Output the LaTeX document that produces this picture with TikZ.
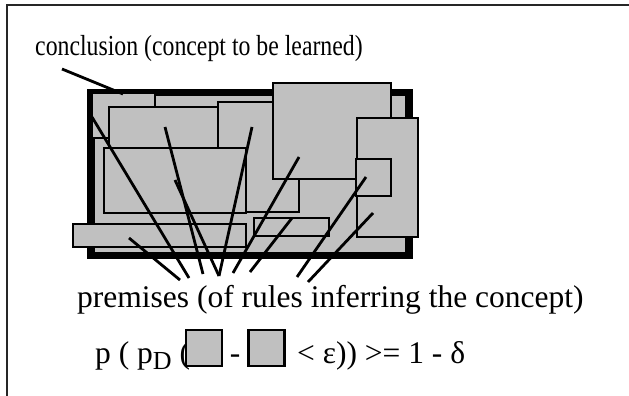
\documentclass[tikz,border=0pt]{standalone}
\usepackage{fontspec}
\setmainfont{Liberation Serif}
\definecolor{boxgray}{RGB}{192,192,192}
\begin{document}
\begin{tikzpicture}[x=1pt,y=-1pt,
  box/.style={fill=boxgray,draw=black,line width=2.8pt},
  fan/.style={draw=black,line width=2.8pt},
  lbl/.style={anchor=base west,inner sep=0pt},
  frm/.style={anchor=base west,inner sep=0pt,font=\fontsize{31.5}{31.5}\selectfont}]
\useasboundingbox (0,0) rectangle (629,396);
% page frame
\draw[line width=1.5pt,black!85] (7,396) -- (7,5) -- (629,5);
% concept region
\draw[fill=boxgray,line width=7.5pt] (91,92.5) rectangle (409,255.5);
% conclusion box
\draw[box] (92,93) rectangle (155,138);
% premise boxes
\draw[box] (218,102) rectangle (299,212);
\draw[box] (109,107) rectangle (218,148);
\draw[box] (104,148) rectangle (246,213);
\draw[box] (273,83) rectangle (391,179);
\draw[box] (357,118) rectangle (418,237);
\draw[box] (356,159) rectangle (391,196);
\draw[box] (73,224) rectangle (246,247);
\draw[box] (254,218) rectangle (329,236);
% texts
\node[lbl,font=\fontsize{29}{29}\selectfont] (concl) at (35,56) {\scalebox{0.82}[1]{conclusion (concept to be learned)}};
\node[lbl,font=\fontsize{31.5}{31.5}\selectfont] (prem) at (77,307) {premises (of rules inferring the concept)};
\node[frm] (f1) at (95,363) {p ( p\raisebox{-0.22em}{\fontsize{26}{26}\selectfont D} (};
\node[box,minimum width=36pt,minimum height=36pt,inner sep=0pt] (b1) at (204,348) {};
\node[frm,anchor=base] (minus) at (235,363) {-};
\node[box,minimum width=36pt,minimum height=36pt,inner sep=0pt] (b2) at (266.5,348) {};
\node[frm] (f2) at (297,363) {< ε)) >= 1 - δ};
% connector coordinates
\coordinate (c0) at (62,69);
\coordinate (c1) at (123,94);
\coordinate (t1) at (92,117);  \coordinate (e1) at (189,278);
\coordinate (t2) at (129,238); \coordinate (e2) at (180,280);
\coordinate (t3) at (165,127); \coordinate (e3) at (203,274);
\coordinate (t4) at (175,180); \coordinate (e4) at (219,276);
\coordinate (t5) at (252,127); \coordinate (e5) at (219,276);
\coordinate (t6) at (299,157); \coordinate (e6) at (233,273);
\coordinate (t7) at (292,218); \coordinate (e7) at (250,272);
\coordinate (t8) at (366,177); \coordinate (e8) at (297,277);
\coordinate (t9) at (373,213); \coordinate (e9) at (308,282);
\draw[fan] (c0) -- (c1);
\foreach \i in {1,...,9} {\draw[fan] (t\i) -- (e\i);}
\end{tikzpicture}
\end{document}
